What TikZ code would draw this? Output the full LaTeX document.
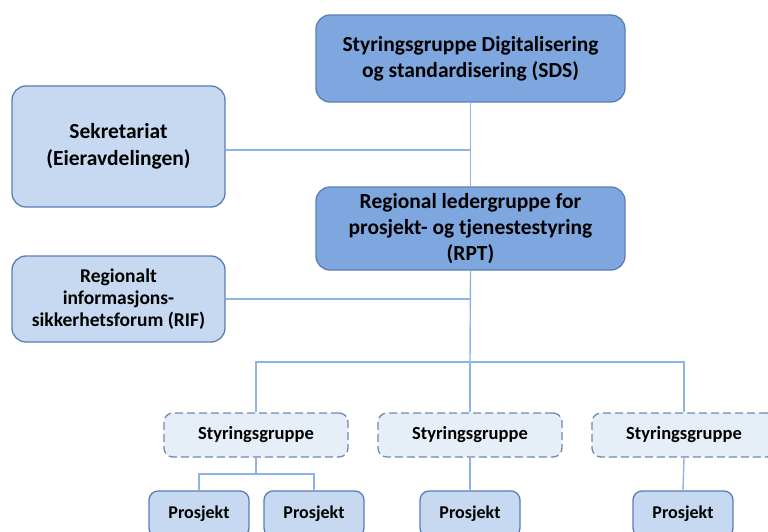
\documentclass[tikz,border=0pt]{standalone}
\usepackage{fontspec}
\setmainfont{Carlito}
\usetikzlibrary{positioning}
\definecolor{fill_dark}{HTML}{7FA7DF}
\definecolor{fill_light}{HTML}{C6D9F1}
\definecolor{fill_pale}{HTML}{E6EEF8}
\definecolor{edge_box}{HTML}{5B7DB5}
\definecolor{edge_dash}{HTML}{7088AD}
\definecolor{link_blue}{HTML}{8EB4E3}
\tikzset{
  box_main/.style={draw = edge_box, fill = fill_dark, line width = 1.3pt, rounded corners = 14pt, minimum width = 309pt, align = center, inner sep = 0, font = \bfseries\fontsize{21.5}{26}\selectfont},
  box_side/.style={draw = edge_box, fill = fill_light, line width = 1.3pt, rounded corners = 14pt, minimum width = 213pt, align = center, inner sep = 0, font = \bfseries\fontsize{21.5}{27}\selectfont},
  box_side_small/.style={box_side, font = \bfseries\fontsize{19.5}{22}\selectfont},
  box_group/.style={draw = edge_dash, fill = fill_pale, line width = 1.3pt, dash pattern = on 8pt off 4pt, rounded corners = 9pt, minimum width = 184pt, minimum height = 44pt, inner sep = 0, font = \bfseries\fontsize{18.5}{20}\selectfont},
  box_project/.style={draw = edge_box, fill = fill_light, line width = 1.3pt, rounded corners = 9pt, minimum width = 100pt, minimum height = 46pt, inner sep = 0, font = \bfseries\fontsize{18}{20}\selectfont},
  line_link/.style={draw = link_blue, line width = 1.4pt}
}
\begin{document}
\begin{tikzpicture}[x = 1pt, y = -1pt]
\useasboundingbox (0,0) rectangle (768,532);

\node[box_main, minimum height = 87pt] at (470.5,58.5) (sds) {Styringsgruppe Digitalisering\\og standardisering (SDS)};
\node[box_side, minimum height = 121pt] at (118.5,146.5) (sek) {Sekretariat\\(Eieravdelingen)};
\node[box_main, minimum height = 83pt] at (470.5,228.5) (rpt) {Regional ledergruppe for\\prosjekt- og tjenestestyring\\(RPT)};
\node[box_side_small, minimum height = 86pt] at (118.5,299) (rif) {Regionalt\\informasjons-\\sikkerhetsforum (RIF)};

\node[box_group] at (256,435) (sg1) {Styringsgruppe};
\node[box_group] at (470,435) (sg2) {Styringsgruppe};
\node[box_group] at (684,435) (sg3) {Styringsgruppe};

\node[box_project] at (199,514) (p1) {Prosjekt};
\node[box_project] at (314,514) (p2) {Prosjekt};
\node[box_project] at (470,514) (p3) {Prosjekt};
\node[box_project] at (683,514) (p4) {Prosjekt};

\coordinate (sek_join) at (470,150);
\coordinate (rif_join) at (470,299);
\coordinate (bus) at (470,362);
\coordinate (sg1_join) at (256,474);

%% lines
\draw[line_link] (sds.south) -- (rpt.north);
\draw[line_link] (sek.east |- sek_join) -- (sek_join);

\draw[line_link] (rpt.south) -- (bus);
\draw[line_link] (rif.east |- rif_join) -- (rif_join);

\draw[line_link] (bus) -| (sg1.north);
\draw[line_link] (bus) -- (sg2.north);
\draw[line_link] (bus) -| (sg3.north);

\draw[line_link] (sg1.south) -- (sg1_join);
\draw[line_link] (sg1_join) -| (p1.north);
\draw[line_link] (sg1_join) -| (p2.north);

\draw[line_link] (sg2.south) -- (p3.north);
\draw[line_link] (sg3.south) -- (p4.north);
\end{tikzpicture}
\end{document}
